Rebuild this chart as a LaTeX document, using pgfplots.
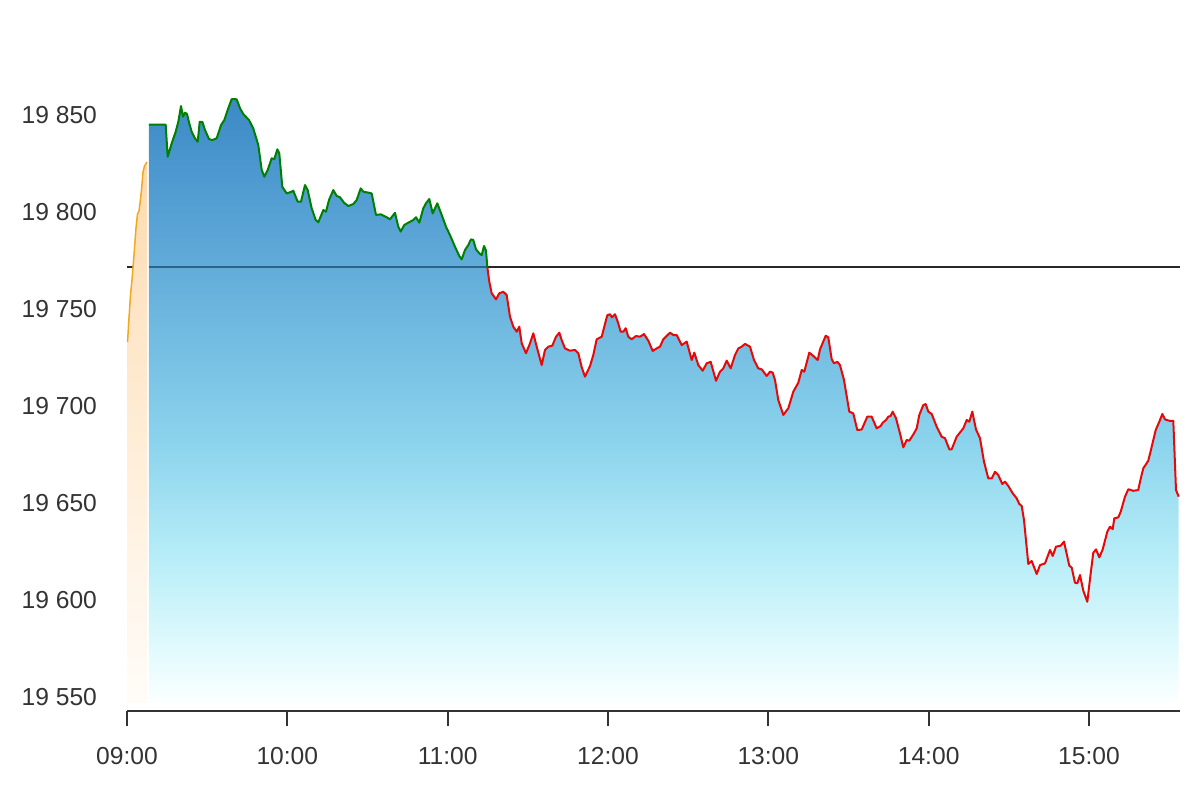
\documentclass[border=0pt]{standalone}
\usepackage{fontspec}
\setmainfont{Liberation Sans}
\usepackage{pgfplots}
\usepackage{pgfplotstable}
\pgfplotsset{compat=1.18}

\definecolor{txt}{RGB}{51,51,51}
\definecolor{axisc}{RGB}{51,51,51}
\definecolor{refc}{RGB}{40,40,40}
\definecolor{refblue}{RGB}{42,100,138}
\definecolor{upgreen}{RGB}{0,128,0}
\definecolor{downred}{RGB}{232,8,8}
\definecolor{preor}{RGB}{242,168,30}
\definecolor{b0}{RGB}{252,255,255}
\definecolor{b1}{RGB}{225,250,253}
\definecolor{b2}{RGB}{185,238,248}
\definecolor{b3}{RGB}{140,212,237}
\definecolor{b4}{RGB}{98,172,218}
\definecolor{b5}{RGB}{60,137,198}
\definecolor{o0}{RGB}{255,252,248}
\definecolor{o1}{RGB}{255,243,228}
\definecolor{o2}{RGB}{254,230,200}
\definecolor{o3}{RGB}{252,218,175}

\pgfdeclareverticalshading{blueshade}{100bp}{color(0bp)=(b0); color(25bp)=(b0); color(29.5bp)=(b1); color(36.7bp)=(b2); color(46.4bp)=(b3); color(61bp)=(b4); color(75bp)=(b5); color(100bp)=(b5)}
\pgfdeclareverticalshading{orangeshade}{100bp}{color(0bp)=(o0); color(25bp)=(o0); color(40bp)=(o1); color(60bp)=(o2); color(75bp)=(o3); color(100bp)=(o3)}

% minutes after 09:00, index value
\pgfplotstableread{
x y
0.2 19733.0
0.75 19745.4
1.31 19757.2
1.87 19765.0
2.62 19777.8
3.37 19791.8
3.93 19799.0
4.49 19800.5
4.87 19804.6
5.43 19811.3
5.99 19820.6
6.55 19823.7
7.49 19825.8
}\predata

\pgfplotstableread{
x y
8.23 19845.0
14.48 19845.0
15.23 19828.5
16.73 19835.4
18.22 19841.4
19.20 19846.5
20.21 19854.6
20.96 19849.1
21.71 19851.2
22.45 19850.5
23.31 19845.7
24.21 19841.4
25.45 19838.0
26.46 19836.2
27.21 19846.5
28.18 19846.5
29.19 19842.3
30.69 19837.6
31.92 19837.1
33.57 19838.0
35.18 19844.8
36.41 19847.4
37.91 19853.5
39.18 19858.2
41.05 19858.1
42.29 19853.5
43.52 19850.5
45.66 19847.4
47.26 19843.1
49.14 19834.5
50.41 19821.7
51.38 19818.2
52.65 19821.7
54.15 19827.7
55.12 19827.2
56.25 19832.3
56.99 19830.3
58.12 19813.0
59.76 19809.6
61.63 19810.5
62.23 19811.0
63.88 19805.3
65.11 19805.3
66.61 19813.9
67.62 19811.3
69.12 19801.9
70.62 19795.9
71.59 19794.7
73.46 19801.0
74.47 19800.2
75.59 19806.2
77.20 19811.3
78.47 19808.3
79.71 19807.6
81.21 19804.8
82.82 19803.1
84.69 19804.1
85.96 19806.2
87.46 19812.2
88.43 19810.5
91.57 19809.6
93.18 19798.5
94.94 19798.8
97.19 19797.3
98.42 19796.2
100.29 19799.6
101.53 19792.4
102.42 19789.9
103.77 19793.3
105.27 19794.5
107.14 19795.9
108.15 19797.3
109.39 19794.5
110.88 19801.9
111.89 19804.5
113.13 19806.7
114.40 19799.3
116.12 19804.5
117.77 19798.5
119.38 19792.4
120.87 19788.1
122.75 19782.1
124.35 19777.3
125.25 19775.6
126.49 19780.4
127.72 19783.0
128.73 19785.9
129.59 19785.6
130.60 19780.8
131.84 19778.7
132.74 19777.8
133.60 19782.5
134.35 19780.1
134.85 19771.6
135.58 19764.1
136.48 19758.1
138.09 19755.0
139.32 19758.1
140.82 19758.9
142.09 19757.2
143.33 19746.0
144.56 19740.9
145.84 19738.3
146.81 19740.9
147.71 19732.3
149.32 19727.2
150.81 19732.3
152.05 19737.5
153.32 19730.6
155.19 19721.1
156.43 19728.9
157.66 19730.6
159.16 19731.1
160.54 19735.7
161.78 19737.8
162.67 19734.0
163.91 19729.7
165.78 19728.5
167.65 19728.9
168.89 19727.2
170.16 19720.0
171.39 19715.1
173.27 19720.6
174.50 19726.3
175.77 19734.4
177.64 19735.7
178.62 19740.9
179.74 19746.8
180.75 19747.3
181.50 19745.7
182.62 19747.3
183.63 19743.5
184.75 19738.3
185.73 19738.3
186.63 19740.1
187.60 19735.7
188.87 19734.4
190.48 19736.1
191.98 19735.7
193.47 19737.1
195.08 19733.7
196.73 19728.4
198.23 19729.7
199.46 19730.6
200.70 19734.4
203.20 19737.8
204.44 19736.6
205.71 19736.6
207.58 19731.4
209.45 19733.2
211.32 19723.7
212.30 19727.5
213.80 19721.1
215.44 19718.2
216.94 19722.0
218.43 19722.8
220.42 19713.0
221.91 19717.7
223.15 19719.4
224.42 19723.4
225.92 19719.4
227.53 19726.3
228.76 19729.7
230.04 19730.6
231.27 19732.0
233.14 19730.6
234.64 19723.7
236.25 19719.4
237.52 19718.9
239.39 19715.5
240.63 19717.7
241.64 19717.2
242.50 19713.4
243.73 19703.1
245.60 19695.4
247.47 19698.8
249.35 19707.4
251.22 19712.0
252.49 19718.6
253.46 19717.7
255.33 19727.5
256.83 19725.8
258.48 19723.7
259.34 19729.2
261.47 19736.2
262.44 19735.4
263.72 19724.1
264.58 19722.0
265.81 19722.8
266.82 19721.1
268.32 19713.4
270.30 19697.1
271.80 19696.2
273.30 19687.6
274.94 19687.9
277.04 19694.5
278.68 19694.5
280.55 19688.5
282.05 19689.7
282.80 19691.4
284.04 19692.8
284.90 19694.5
285.79 19694.9
286.54 19697.1
287.78 19693.7
289.27 19685.9
290.51 19678.7
291.78 19682.5
292.76 19682.1
294.51 19685.9
295.52 19688.5
296.50 19695.4
297.99 19700.5
298.89 19701.0
299.87 19697.1
301.14 19695.9
303.01 19689.3
304.88 19684.2
306.11 19683.4
307.72 19677.7
308.62 19677.7
310.49 19684.2
312.96 19688.5
314.24 19692.8
315.21 19691.9
316.33 19697.1
317.72 19687.9
319.21 19683.4
320.71 19671.3
322.32 19662.7
323.59 19662.7
324.83 19666.1
326.06 19664.4
327.56 19659.8
328.57 19661.0
329.80 19658.8
331.45 19655.0
332.95 19652.4
333.92 19649.5
334.82 19648.5
335.68 19641.2
337.29 19618.6
338.56 19620.1
340.43 19613.4
341.67 19618.0
343.54 19618.9
345.41 19625.8
346.42 19622.7
347.65 19627.5
349.41 19628.0
350.65 19630.1
352.63 19617.7
353.53 19616.7
354.76 19608.9
355.62 19608.6
356.63 19612.9
357.87 19604.8
359.37 19599.1
360.64 19613.8
361.61 19624.4
362.62 19626.1
363.86 19622.0
365.13 19626.1
366.85 19635.2
367.86 19637.8
368.87 19636.5
369.47 19642.1
370.97 19642.6
371.87 19645.5
373.48 19653.3
374.71 19657.1
376.58 19656.3
378.45 19656.7
379.09 19661.0
380.32 19667.9
382.19 19671.8
383.47 19679.0
384.96 19687.6
386.31 19691.9
387.44 19695.9
388.44 19693.1
390.06 19692.4
391.55 19692.4
392.56 19656.7
393.57 19653.3
}\daydata

\begin{document}
\begin{tikzpicture}
\path[use as bounding box] (-63.5pt,-44.5pt) rectangle (536.5pt,355.5pt);
\begin{axis}[
  at={(0,0)}, anchor=south west,
  scale only axis, width=526.5pt, height=327.1pt,
  xmin=0, xmax=394.06, ymin=19542.8, ymax=19880,
  scaled y ticks=false, scaled x ticks=false,
  axis x line*=bottom, axis y line*=left,
  y axis line style={draw=none},
  x axis line style={color=axisc, line width=1pt},
  xtick={0,60,120,180,240,300,360},
  xticklabels={09:00,10:00,11:00,12:00,13:00,14:00,15:00},
  ytick={19550,19600,19650,19700,19750,19800,19850},
  yticklabels={19 550,19 600,19 650,19 700,19 750,19 800,19 850},
  tick align=outside, major tick length=7.5pt,
  xtick style={color=axisc, line width=1pt},
  ytick style={draw=none},
  ticklabel style={font=\fontsize{12.3}{14}\selectfont, color=txt},
  xticklabel style={yshift=-7pt},
  yticklabel style={xshift=-4pt},
  clip=false,
]
% pre-market area and line
\addplot[draw=none, shading=orangeshade] table[x=x,y=y] {\predata} |- (0.2,19547) -- cycle;
% reference line (previous close)
\addplot[color=refc, line width=0.8pt] coordinates {(0,19771.6) (2.2,19771.6)};
% session area
\addplot[draw=none, shading=blueshade] table[x=x,y=y] {\daydata} |- (8.23,19547) -- cycle;
\addplot[color=refblue, line width=0.8pt] coordinates {(8.23,19771.6) (134.85,19771.6)};
\addplot[color=refc, line width=0.8pt] coordinates {(134.85,19771.6) (394.06,19771.6)};
\addplot[color=preor, line width=0.75pt, line join=round] table[x=x,y=y] {\predata};
\addplot[color=upgreen, line width=1pt, line join=round, restrict x to domain=0:134.86] table[x=x,y=y] {\daydata};
\addplot[color=downred, line width=1pt, line join=round, restrict x to domain=134.84:400] table[x=x,y=y] {\daydata};
\end{axis}
\end{tikzpicture}
\end{document}
